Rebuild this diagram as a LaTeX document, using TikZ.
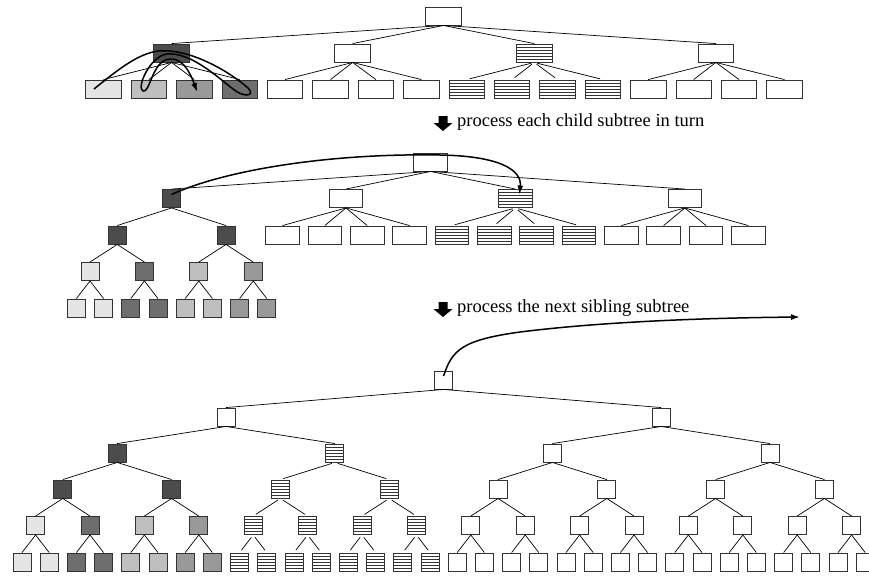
\documentclass[tikz,border=0pt]{standalone}
\usepackage{fontspec}
\setmainfont{Liberation Serif}
\usetikzlibrary{arrows.meta,calc}

\begin{document}
\begin{tikzpicture}[x=1pt,y=-1pt,>={Latex[length=9pt,width=6pt]},
  nd/.style={draw=black!80,line width=0.9pt,inner sep=0pt,minimum height=18pt},
  trect/.style={nd,minimum width=35.5pt},
  mrect/.style={nd,minimum width=33.5pt},
  sq/.style={nd,minimum width=18pt},
  wht/.style={fill=white},
  dkb/.style={fill=black!70},
  lgt/.style={fill=black!10},
  dgr/.style={fill=black!57},
  slv/.style={fill=black!25},
  mgr/.style={fill=black!40},
  hat/.style={fill=white,path picture={
    \foreach \k in {1,...,5}
      \draw[line width=0.7pt] ($(path picture bounding box.north west)!\k/6!(path picture bounding box.south west)$) -- ($(path picture bounding box.north east)!\k/6!(path picture bounding box.south east)$);}},
  link/.style={draw=black,line width=0.7pt},
  hlink/.style={link,shorten <=3pt,shorten >=3pt},
  walk/.style={->,line width=1.5pt},
  lab/.style={anchor=base west,inner sep=0pt,font=\fontsize{18.5}{20}\selectfont},
  blockdn/.pic={\fill (-4.5,0) -- (4.5,0) -- (4.5,7) -- (9.5,7) -- (0,15) -- (-9.5,7) -- (-4.5,7) -- cycle;}]
\useasboundingbox (0,0) rectangle (869,576);

% first row: one level of children
\node[trect,wht] (t0) at (443.5,16) {};
\node[trect,dkb] (t1-0) at (171.6,53) {};
\node[trect,wht] (t1-1) at (352.6,53) {};
\node[trect,hat] (t1-2) at (534.2,53) {};
\node[trect,wht] (t1-3) at (715.8,53) {};
\foreach \j in {0,...,3} \draw[link] (t0.south) -- (t1-\j.north);
\foreach \i/\s in {0/lgt,1/slv,2/mgr,3/dgr,4/wht,5/wht,6/wht,7/wht,8/hat,9/hat,10/hat,11/hat,12/wht,13/wht,14/wht,15/wht}
  \node[trect,\s] (tl\i) at ({103.5+45.4*\i},89) {};
\foreach \i in {0,...,3} \draw[link] (t1-0.south) -- (tl\i.north);
\foreach \i in {4,...,7} \draw[link] (t1-1.south) -- (tl\i.north);
\foreach \i in {8,...,11} \draw[hlink] (t1-2.south) -- (tl\i.north);
\foreach \i in {12,...,15} \draw[link] (t1-3.south) -- (tl\i.north);
\draw[walk] ([xshift=-9.5pt]tl0.center) .. controls (120,68) and (138,54) .. (158,51)
  .. controls (190,48) and (230,72) .. (248,88)
  .. controls (256,96) and (244,98) .. (233,89)
  .. controls (215,75) and (190,52) .. (167,54)
  .. controls (150,56) and (136,88) .. (143,91)
  .. controls (150,94) and (152,60) .. (170,59)
  .. controls (185,58) and (192,78) .. ([xshift=3pt,yshift=-3pt]tl2.center);

\pic at (443,116) {blockdn};
\node[lab] (say1) at (457,126) {process each child subtree in turn};

% second row: the first child opened
\node[mrect,wht,minimum width=34pt] (m0) at (430.5,162) {};
\node[sq,dkb] (m1-0) at (171.6,198.5) {};
\node[mrect,wht] (m1-1) at (346,198.5) {};
\node[mrect,hat] (m1-2) at (515.4,198.5) {};
\node[mrect,wht] (m1-3) at (684.8,198.5) {};
\foreach \j in {0,...,3} \draw[link] (m0.south) -- (m1-\j.north);
\foreach \i/\s in {0/wht,1/wht,2/wht,3/wht,4/hat,5/hat,6/hat,7/hat,8/wht,9/wht,10/wht,11/wht}
  \node[mrect,\s] (ml\i) at ({282.5+42.35*\i},235) {};
\foreach \i in {0,...,3} \draw[link] (m1-1.south) -- (ml\i.north);
\foreach \i in {4,...,7} \draw[hlink] (m1-2.south) -- (ml\i.north);
\foreach \i in {8,...,11} \draw[link] (m1-3.south) -- (ml\i.north);
\node[sq,dkb] (m2-0) at (117.2,235) {};
\node[sq,dkb] (m2-1) at (226,235) {};
\foreach \j in {0,1} \draw[link] (m1-0.south) -- (m2-\j.north);
\foreach \j/\s in {0/lgt,1/dgr,2/slv,3/mgr}
  \node[sq,\s] (m3-\j) at ({90+54.4*\j},271.5) {};
\foreach \j in {0,...,3} {\pgfmathtruncatemacro\p{\j/2} \draw[link] (m2-\p.south) -- (m3-\j.north);}
\foreach \i/\s in {0/lgt,1/lgt,2/dgr,3/dgr,4/slv,5/slv,6/mgr,7/mgr}
  \node[sq,\s] (m4-\i) at ({76.4+27.2*\i},308) {};
\foreach \i in {0,...,7} {\pgfmathtruncatemacro\p{\i/2} \draw[link] (m3-\p.south) -- (m4-\i.north);}
\draw[walk] ([yshift=4pt]m1-0.center) .. controls (225,170) and (330,153) .. (440,155)
  .. controls (500,156) and (522,170) .. ([xshift=4pt,yshift=4pt]m1-2.center);

\pic at (443,302) {blockdn};
\node[lab] (say2) at (457,312) {process the next sibling subtree};

% third row: full binary tree
\node[sq,wht] (b0) at (443.6,380) {};
\node[sq,wht] (b1-0) at (226,417) {};
\node[sq,wht] (b1-1) at (661.2,417) {};
\foreach \j in {0,1} \draw[link] (b0.south) -- (b1-\j.north);
\foreach \j/\s in {0/dkb,1/hat,2/wht,3/wht}
  \node[sq,\s] (b2-\j) at ({117.2+217.6*\j},453) {};
\foreach \j in {0,...,3} {\pgfmathtruncatemacro\p{\j/2} \draw[link] (b1-\p.south) -- (b2-\j.north);}
\foreach \j/\s in {0/dkb,1/dkb,2/hat,3/hat,4/wht,5/wht,6/wht,7/wht}
  \node[sq,\s] (b3-\j) at ({62.8+108.8*\j},489) {};
\foreach \j in {0,1,4,5,6,7} {\pgfmathtruncatemacro\p{\j/2} \draw[link] (b2-\p.south) -- (b3-\j.north);}
\foreach \j in {2,3} \draw[hlink] (b2-1.south) -- (b3-\j.north);
\foreach \j/\s in {0/lgt,1/dgr,2/slv,3/mgr,4/hat,5/hat,6/hat,7/hat}
  \node[sq,\s] (b4-\j) at ({35.6+54.4*\j},525.5) {};
\foreach \j in {8,...,15} \node[sq,wht] (b4-\j) at ({35.6+54.4*\j},525.5) {};
\foreach \j in {0,1,2,3,8,9,10,11,12,13,14,15} {\pgfmathtruncatemacro\p{\j/2} \draw[link] (b3-\p.south) -- (b4-\j.north);}
\foreach \j in {4,...,7} {\pgfmathtruncatemacro\p{\j/2} \draw[hlink] (b3-\p.south) -- (b4-\j.north);}
\foreach \i/\s in {0/lgt,1/lgt,2/dgr,3/dgr,4/slv,5/slv,6/mgr,7/mgr}
  \node[sq,\s] (b5-\i) at ({22+27.2*\i},562) {};
\foreach \i in {8,...,15} \node[sq,hat] (b5-\i) at ({22+27.2*\i},562) {};
\foreach \i in {16,...,31} \node[sq,wht] (b5-\i) at ({22+27.2*\i},562) {};
\foreach \i in {0,...,7} {\pgfmathtruncatemacro\p{\i/2} \draw[link] (b4-\p.south) -- (b5-\i.north);}
\foreach \i in {8,...,15} {\pgfmathtruncatemacro\p{\i/2} \draw[hlink] (b4-\p.south) -- (b5-\i.north);}
\foreach \i in {16,...,31} {\pgfmathtruncatemacro\p{\i/2} \draw[link] (b4-\p.south) -- (b5-\i.north);}
\coordinate (away) at (800,317);
\draw[walk] ([yshift=4pt]b0.center) .. controls (452,350) and (462,340) .. (520,332)
  .. controls (600,322) and (700,318) .. (away);
\end{tikzpicture}
\end{document}
